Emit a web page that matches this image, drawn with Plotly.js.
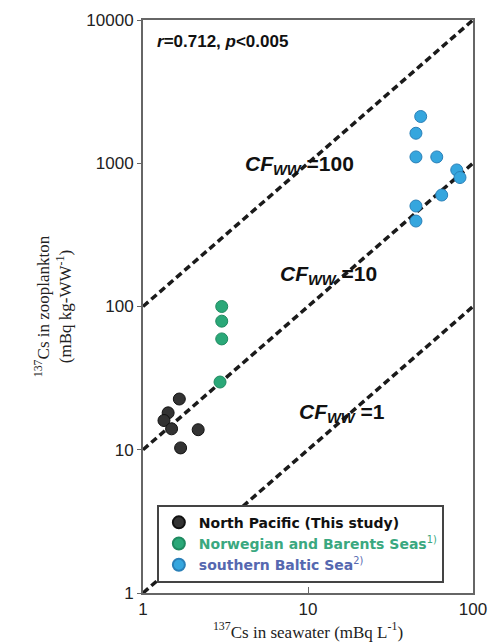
<!DOCTYPE html>
<html><head><meta charset="utf-8">
<script src="https://cdn.plot.ly/plotly-3.0.1.min.js"></script>
<style>html,body{margin:0;padding:0;background:#fff;}#chart{width:502px;height:642px;}</style>
</head><body><div id="chart"></div>
<script>
// North Pacific (this study)
const npX = [1.66, 1.42, 1.34, 1.49, 2.16, 1.69];
const npY = [22.6, 18.1, 16.0, 14.0, 13.8, 10.3];
// Norwegian and Barents Seas
const nbX = [2.93, 3.0, 3.0, 3.0];
const nbY = [29.7, 100, 79, 59.4];
// southern Baltic Sea
const bsX = [48.2, 45.1, 45.1, 60.3, 79.7, 83.4, 64.6, 45.1, 45.1];
const bsY = [2120, 1620, 1107, 1107, 898, 795, 600, 503, 395];
// concentration factor reference lines
const cfValues = [1, 10, 100];
const cfX = [1, 100];
const xTicks = [1, 10, 100];
const yTicks = [1, 10, 100, 1000, 10000];

const traces = [];
cfValues.forEach(cf => {
  traces.push({x: cfX, y: cfX.map(v => v * cf), mode: 'lines', showlegend: false,
    line: {color: '#1a1a1a', width: 3.5, dash: '7px,4px'}, hoverinfo: 'skip'});
});
traces.push({x: npX, y: npY, mode: 'markers', name: '<b>North Pacific (This study)</b>',
  marker: {size: 12, color: '#333333', line: {color: '#111', width: 1}}});
traces.push({x: nbX, y: nbY, mode: 'markers', name: '<span style="color:#3aa880"><b>Norwegian and Barents Seas</b><sup>1)</sup></span>',
  marker: {size: 12, color: '#2aa878', line: {color: '#1f8a60', width: 1}}});
traces.push({x: bsX, y: bsY, mode: 'markers', name: '<span style="color:#5568b0"><b>southern Baltic Sea</b><sup>2)</sup></span>',
  marker: {size: 12, color: '#35a6de', line: {color: '#2a80b8', width: 1}}});

const cfAnn = (txt, x, y) => ({xref: 'paper', yref: 'paper', x: x, y: y, xanchor: 'left', yanchor: 'middle',
  showarrow: false, text: '<b><i>CF</i></b><sub><b><i>WW</i></b></sub><b> =' + txt + '</b>',
  font: {family: 'Liberation Sans, Arial, sans-serif', size: 21, color: '#111'}});

const layout = {
  width: 502, height: 642,
  margin: {l: 143, r: 29, t: 20, b: 49},
  paper_bgcolor: '#fff', plot_bgcolor: '#fff',
  font: {family: 'Liberation Sans, Arial, sans-serif', color: '#222'},
  xaxis: {type: 'log', range: [0, 2], tickvals: xTicks, ticktext: xTicks.map(String),
    showgrid: false, zeroline: false, showline: true, mirror: true, linecolor: '#666', linewidth: 2,
    ticks: 'inside', ticklen: 6, tickcolor: '#666', tickfont: {size: 17, color: '#222'},
    title: {text: '<sup>137</sup>Cs in seawater (mBq L<sup>-1</sup>)', standoff: 0,
      font: {family: 'Liberation Serif, Times New Roman, serif', size: 17, color: '#222'}}},
  yaxis: {type: 'log', range: [0, 4], tickvals: yTicks, ticktext: yTicks.map(String),
    showgrid: false, zeroline: false, showline: true, mirror: true, linecolor: '#666', linewidth: 2,
    ticks: 'outside', ticklen: 4, tickcolor: '#666', tickfont: {size: 17, color: '#222'},
    title: {text: '<sup>137</sup>Cs in zooplankton<br>(mBq kg-WW<sup>-1</sup>)', standoff: 10,
      font: {family: 'Liberation Serif, Times New Roman, serif', size: 17, color: '#222'}}},
  showlegend: true,
  legend: {x: 0.042, y: 0.154, xanchor: 'left', yanchor: 'top', bgcolor: '#fff',
    bordercolor: '#444', borderwidth: 2, tracegroupgap: 0, itemsizing: 'constant',
    font: {size: 14, color: '#111', family: 'DejaVu Sans, sans-serif'}},
  annotations: [
    cfAnn('100', 0.303, 0.747),
    cfAnn('10', 0.409, 0.555),
    cfAnn('1', 0.467, 0.314),
    {xref: 'paper', yref: 'paper', x: 0.036, y: 0.962, xanchor: 'left', yanchor: 'middle', showarrow: false,
      text: '<b><i>r</i>=0.712, <i>p</i>&lt;0.005</b>', font: {size: 17, color: '#111'}}
  ]
};
Plotly.newPlot('chart', traces, layout, {displayModeBar: false, staticPlot: true});
</script></body></html>
